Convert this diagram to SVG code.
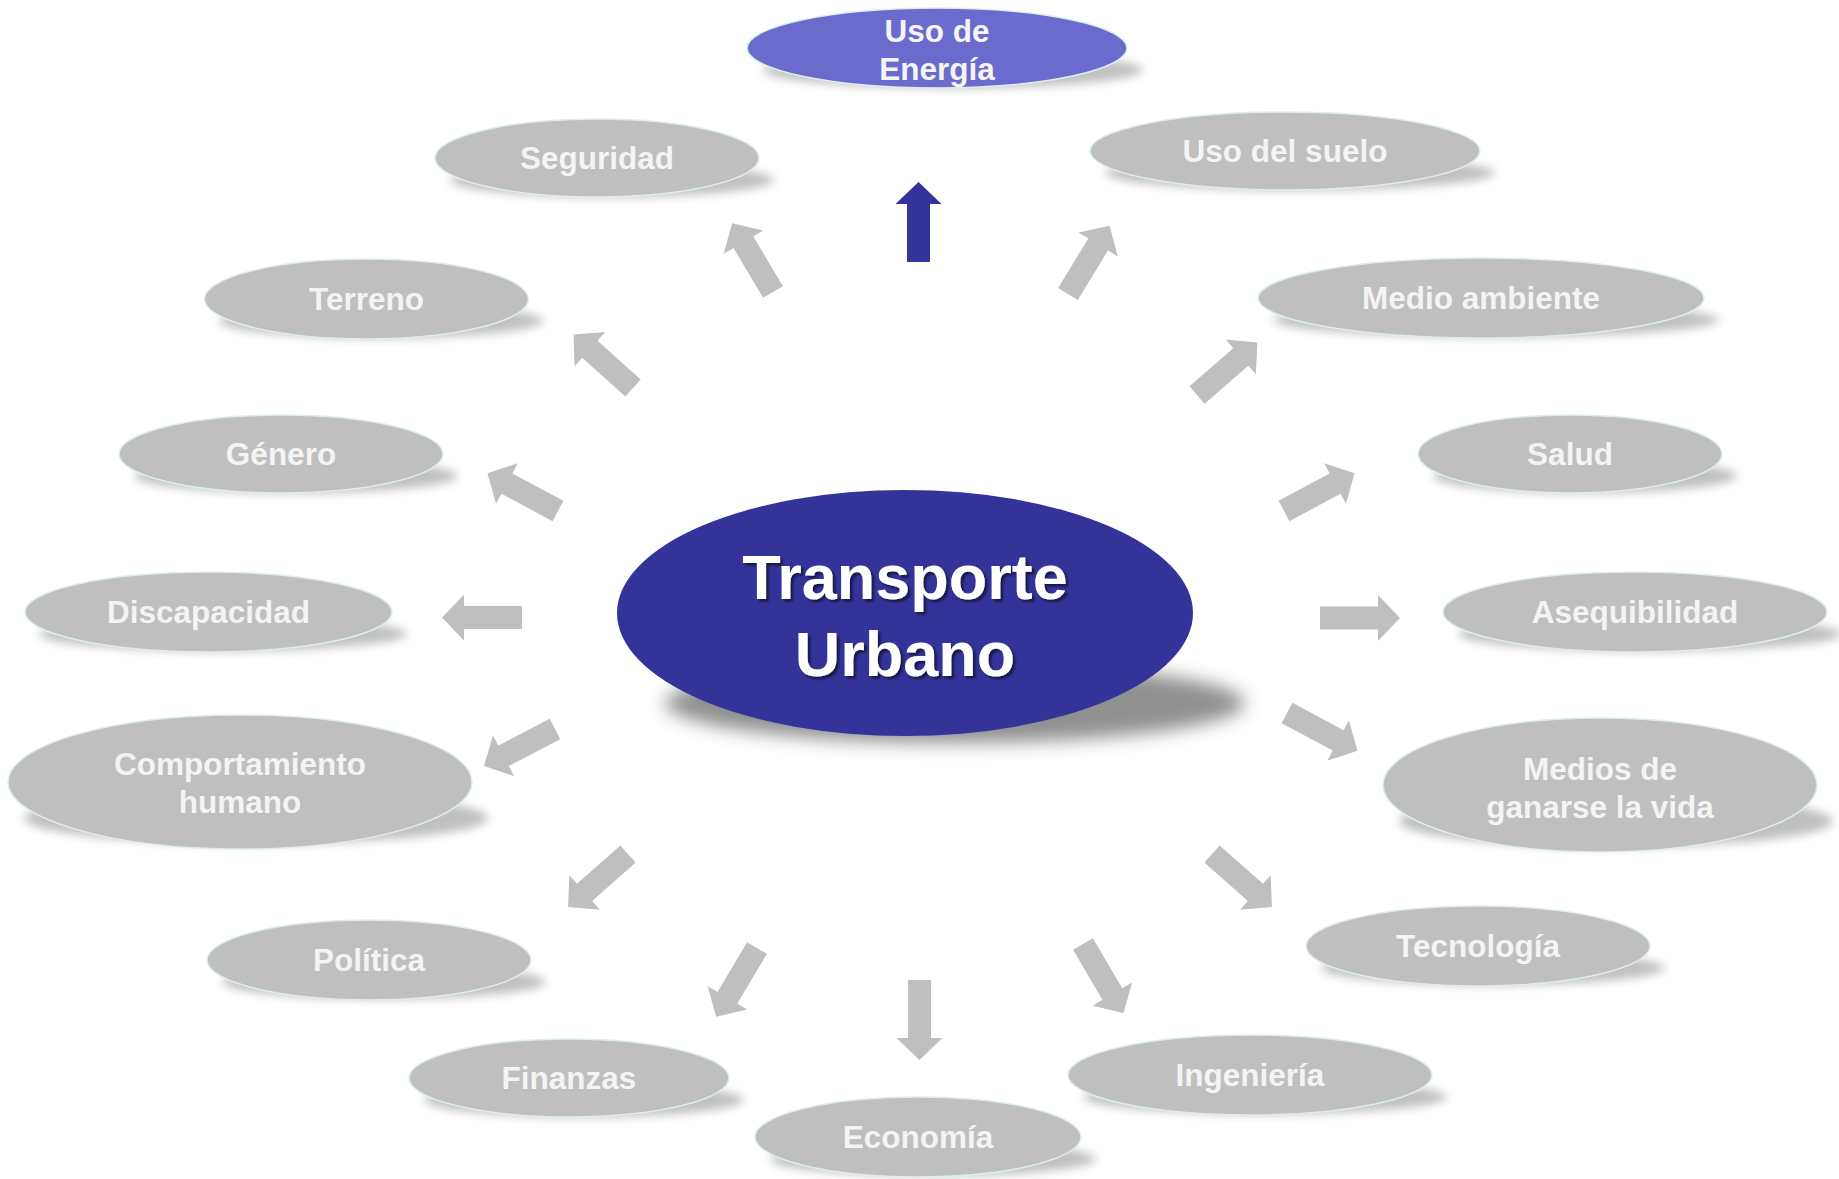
<svg xmlns="http://www.w3.org/2000/svg" width="1839" height="1179" viewBox="0 0 1839 1179">
<defs>
<filter id="blur" x="-20%" y="-50%" width="140%" height="200%"><feGaussianBlur stdDeviation="5"/></filter>
<filter id="blurC" x="-20%" y="-50%" width="140%" height="200%"><feGaussianBlur stdDeviation="9"/></filter>
<filter id="tsh" x="-10%" y="-20%" width="120%" height="140%"><feDropShadow dx="2.5" dy="2.5" stdDeviation="1.2" flood-color="#000" flood-opacity="0.55"/></filter>
<path id="arr" d="M0,-11.5 L58,-11.5 L58,-23 L80,0 L58,23 L58,11.5 L0,11.5 Z"/>
</defs>
<style>
.sh{fill:#8c8c8c;opacity:0.55;filter:url(#blur)}
.n{fill:#BFBFBF;stroke:#DCEFEF;stroke-width:1.5}
.t{font-family:"Liberation Sans",Arial,sans-serif;font-weight:bold;font-size:31.5px;fill:#F4F4F4;text-anchor:middle}
.c{font-family:"Liberation Sans",Arial,sans-serif;font-weight:bold;font-size:63px;fill:#FFFFFF;text-anchor:middle}
.a{fill:#BFBFBF}
</style>
<rect width="1839" height="1179" fill="#FFFFFF"/>

<g id="connectors">
<use href="#arr" fill="#333399" transform="translate(918.5,262) rotate(-90)"/>
<use href="#arr" class="a" transform="translate(773,292) rotate(-120.7)"/>
<use href="#arr" class="a" transform="translate(1068,294) rotate(-58.7)"/>
<use href="#arr" class="a" transform="translate(633,388) rotate(-138)"/>
<use href="#arr" class="a" transform="translate(1197,395) rotate(-41)"/>
<use href="#arr" class="a" transform="translate(558,511) rotate(-151.8)"/>
<use href="#arr" class="a" transform="translate(1284,511) rotate(-28.2)"/>
<use href="#arr" class="a" transform="translate(522,617.5) rotate(180)"/>
<use href="#arr" class="a" transform="translate(1320,618) rotate(0)"/>
<use href="#arr" class="a" transform="translate(555,729) rotate(152.5)"/>
<use href="#arr" class="a" transform="translate(1287,713) rotate(28.2)"/>
<use href="#arr" class="a" transform="translate(628,854) rotate(138.5)"/>
<use href="#arr" class="a" transform="translate(1212,854) rotate(41.5)"/>
<use href="#arr" class="a" transform="translate(757,948) rotate(120.7)"/>
<use href="#arr" class="a" transform="translate(1083,944) rotate(59.6)"/>
<use href="#arr" class="a" transform="translate(919.5,980) rotate(90)"/>
</g>

<g id="center">
<ellipse cx="955" cy="703" rx="290" ry="40" fill="#555" opacity="0.65" filter="url(#blurC)"/>
<ellipse cx="905" cy="613" rx="288" ry="123" fill="#333399"/>
<g filter="url(#tsh)">
<text class="c" x="905" y="599">Transporte</text>
<text class="c" x="905" y="676">Urbano</text>
</g>
</g>

<g id="energia">
<ellipse class="sh" cx="953" cy="70" rx="190" ry="18"/>
<ellipse cx="937" cy="48" rx="190" ry="40" fill="#6B6BCD" stroke="#DCEFEF" stroke-width="1.5"/>
<text class="t" x="937" y="42">Uso de</text>
<text class="t" x="937" y="80">Energía</text>
</g>

<g id="seguridad">
<ellipse class="sh" cx="612" cy="180" rx="162" ry="17"/>
<ellipse class="n" cx="597" cy="158" rx="162" ry="39"/>
<text class="t" x="597" y="169">Seguridad</text>
</g>

<g id="suelo">
<ellipse class="sh" cx="1300" cy="173" rx="195" ry="17"/>
<ellipse class="n" cx="1285" cy="151" rx="195" ry="39"/>
<text class="t" x="1285" y="162">Uso del suelo</text>
</g>

<g id="terreno">
<ellipse class="sh" cx="381" cy="321" rx="162" ry="17"/>
<ellipse class="n" cx="366.5" cy="299" rx="162" ry="40"/>
<text class="t" x="366.5" y="310">Terreno</text>
</g>

<g id="medio">
<ellipse class="sh" cx="1496" cy="320" rx="223" ry="17"/>
<ellipse class="n" cx="1481" cy="298" rx="223" ry="40"/>
<text class="t" x="1481" y="309">Medio ambiente</text>
</g>

<g id="genero">
<ellipse class="sh" cx="296" cy="476" rx="162" ry="17"/>
<ellipse class="n" cx="281" cy="454" rx="162" ry="39"/>
<text class="t" x="281" y="465">Género</text>
</g>

<g id="salud">
<ellipse class="sh" cx="1585" cy="476" rx="152" ry="17"/>
<ellipse class="n" cx="1570" cy="454" rx="152" ry="39"/>
<text class="t" x="1570" y="465">Salud</text>
</g>

<g id="discapacidad">
<ellipse class="sh" cx="223" cy="634" rx="184" ry="17"/>
<ellipse class="n" cx="208.5" cy="612" rx="183.5" ry="40"/>
<text class="t" x="208.5" y="623">Discapacidad</text>
</g>

<g id="asequibilidad">
<ellipse class="sh" cx="1650" cy="634" rx="192" ry="17"/>
<ellipse class="n" cx="1635" cy="612" rx="192" ry="40"/>
<text class="t" x="1635" y="623">Asequibilidad</text>
</g>

<g id="comportamiento">
<ellipse class="sh" cx="256" cy="818" rx="232" ry="26"/>
<ellipse class="n" cx="240" cy="782" rx="232" ry="67"/>
<text class="t" x="240" y="775">Comportamiento</text>
<text class="t" x="240" y="813">humano</text>
</g>

<g id="medios">
<ellipse class="sh" cx="1616" cy="821" rx="217" ry="26"/>
<ellipse class="n" cx="1600" cy="785" rx="217" ry="67"/>
<text class="t" x="1600" y="780">Medios de</text>
<text class="t" x="1600" y="818">ganarse la vida</text>
</g>

<g id="politica">
<ellipse class="sh" cx="384" cy="982" rx="162" ry="17"/>
<ellipse class="n" cx="369" cy="960" rx="162" ry="40"/>
<text class="t" x="369" y="971">Política</text>
</g>

<g id="tecnologia">
<ellipse class="sh" cx="1493" cy="968" rx="172" ry="17"/>
<ellipse class="n" cx="1478" cy="946" rx="172" ry="40"/>
<text class="t" x="1478" y="957">Tecnología</text>
</g>

<g id="finanzas">
<ellipse class="sh" cx="584" cy="1100" rx="160" ry="17"/>
<ellipse class="n" cx="569" cy="1078" rx="160" ry="39"/>
<text class="t" x="569" y="1089">Finanzas</text>
</g>

<g id="ingenieria">
<ellipse class="sh" cx="1265" cy="1097" rx="182" ry="17"/>
<ellipse class="n" cx="1250" cy="1075" rx="182" ry="40"/>
<text class="t" x="1250" y="1086">Ingeniería</text>
</g>

<g id="economia">
<ellipse class="sh" cx="933" cy="1159" rx="163" ry="17"/>
<ellipse class="n" cx="918" cy="1137" rx="163" ry="40"/>
<text class="t" x="918" y="1148">Economía</text>
</g>
</svg>
